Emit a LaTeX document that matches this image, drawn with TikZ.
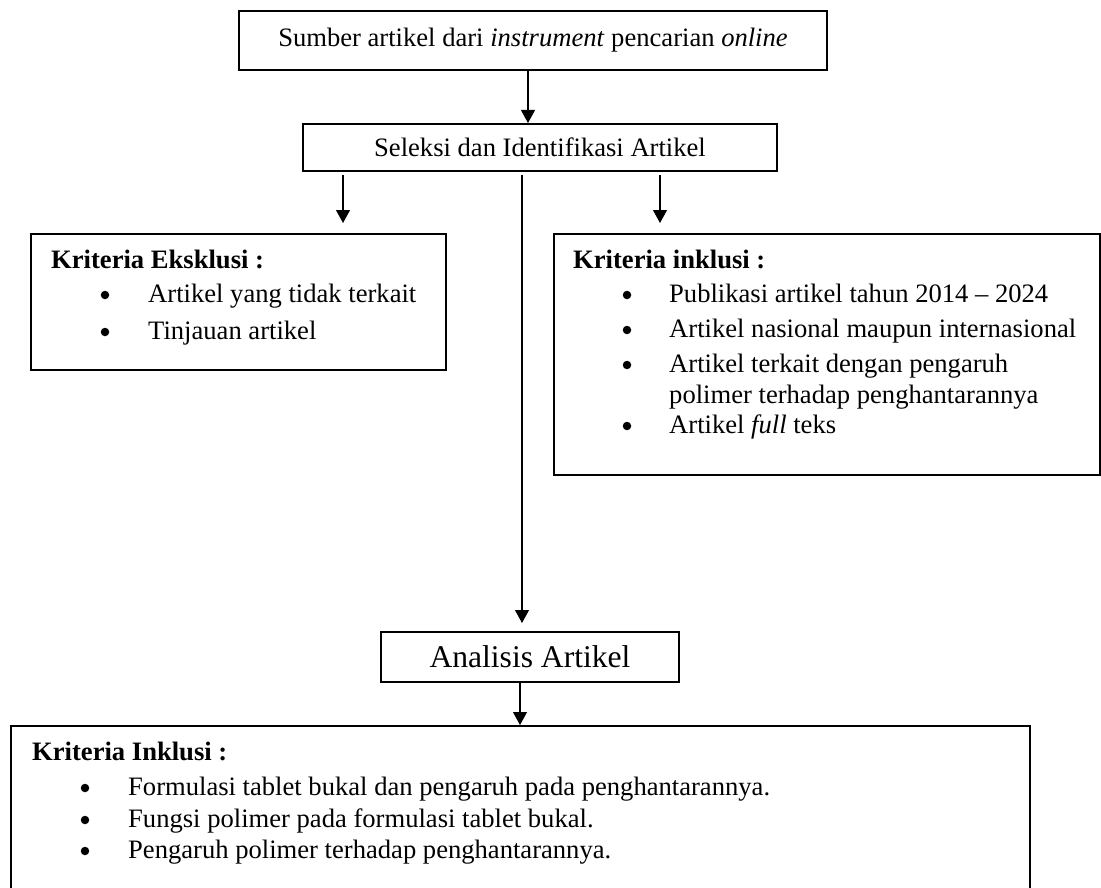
\documentclass[tikz,border=0pt]{standalone}
\usepackage{fontspec}
\setmainfont{Liberation Serif}
\usetikzlibrary{arrows.meta}
\begin{document}
\begin{tikzpicture}[x=1pt,y=-1pt,
  box/.style={draw, line width=2pt, inner sep=0pt, anchor=north west},
  arr/.style={line width=1.1pt, -{Triangle[width=14pt,length=13pt]}},
  main/.style={font=\fontsize{26.6}{31}\selectfont},
  txt/.style={main, anchor=base west, inner sep=0pt},
  bul/.style={circle, fill=black, inner sep=0pt, minimum size=8.5pt},
  hd/.style={txt, font=\fontsize{26.6}{31}\selectfont\bfseries}]
\useasboundingbox (0,0) rectangle (1101,888);

% boxes
\node[box, main, minimum width=588pt, minimum height=59pt] (src) at (238,10)
  {Sumber artikel dari \textit{instrument} pencarian \textit{online}};
\node[box, main, minimum width=474pt, minimum height=47pt] (sel) at (302,123)
  {Seleksi dan Identifikasi Artikel};
\node[box, minimum width=415pt, minimum height=136pt] (exc) at (30,233) {};
\node[box, minimum width=546pt, minimum height=241pt] (inc) at (553,233) {};
\node[box, font=\fontsize{31.6}{36}\selectfont, minimum width=298pt, minimum height=50pt] (ana) at (380,631)
  {Analisis Artikel};
\node[box, minimum width=1019pt, minimum height=180pt] (fin) at (10,725) {};

% connector start points
\coordinate (a1) at (528,0);
\coordinate (s1) at (343,175);
\coordinate (s2) at (522,175);
\coordinate (s3) at (660,175);
\coordinate (a5) at (520,0);

\draw[arr] (src.south -| a1) -- (sel.north -| a1);
\draw[arr, shorten >=10pt] (s1) -- (exc.north -| s1);
\draw[arr, shorten >=8pt] (s2) -- (ana.north -| s2);
\draw[arr, shorten >=10pt] (s3) -- (inc.north -| s3);
\draw[arr] (ana.south -| a5) -- (fin.north -| a5);

% exclusion box text
\node[hd] (exh) at (51,268) {Kriteria Eksklusi :};
\node[bul] (exb1) at (105,295) {};
\node[txt] (ext1) at (148,302) {Artikel yang tidak terkait};
\node[bul] (exb2) at (105,332) {};
\node[txt] (ext2) at (148,339) {Tinjauan artikel};

% inclusion box text
\node[hd] (inh) at (573,268) {Kriteria inklusi :};
\node[bul] (inb1) at (627,295) {};
\node[txt] (int1) at (669,302) {Publikasi artikel tahun 2014 – 2024};
\node[bul] (inb2) at (627,330) {};
\node[txt] (int2) at (669,337) {Artikel nasional maupun internasional};
\node[bul] (inb3) at (627,365) {};
\node[txt] (int3) at (669,372) {Artikel terkait dengan pengaruh};
\node[txt] (int3b) at (669,403) {polimer terhadap penghantarannya};
\node[bul] (inb4) at (627,426) {};
\node[txt] (int4) at (669,433) {Artikel \textit{full} teks};

% final box text
\node[hd] (fnh) at (32,760) {Kriteria Inklusi :};
\node[bul] (fnb1) at (85,788) {};
\node[txt] (fnt1) at (128,795) {Formulasi tablet bukal dan pengaruh pada penghantarannya.};
\node[bul] (fnb2) at (85,820) {};
\node[txt] (fnt2) at (128,827) {Fungsi polimer pada formulasi tablet bukal.};
\node[bul] (fnb3) at (85,851) {};
\node[txt] (fnt3) at (128,858) {Pengaruh polimer terhadap penghantarannya.};
\end{tikzpicture}
\end{document}
